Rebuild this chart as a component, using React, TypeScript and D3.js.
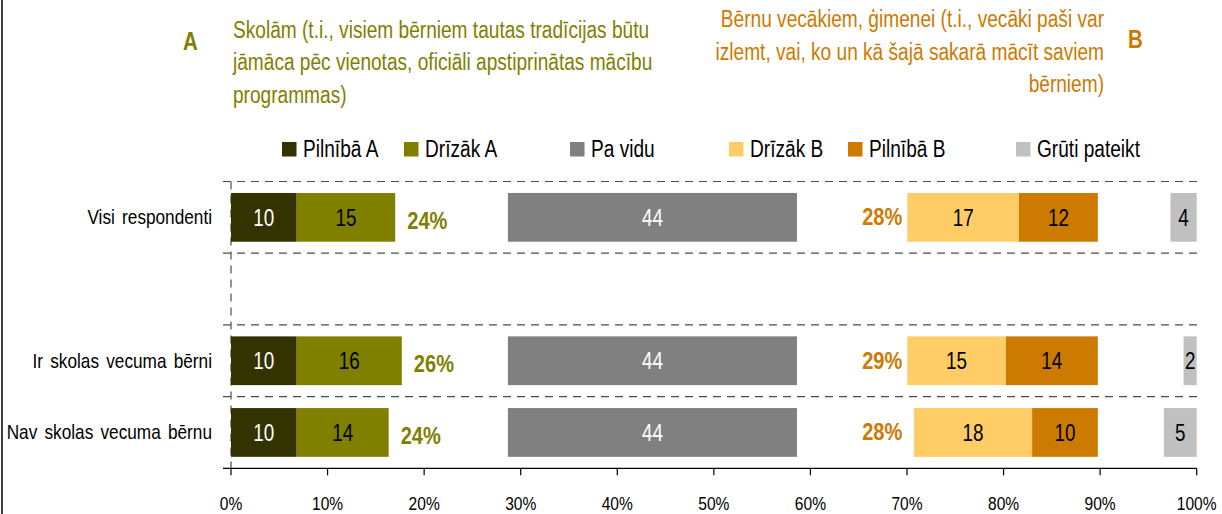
import React from "react";
import * as d3 from "d3";

// ---- data ----
const categories = ["Visi respondenti", "", "Ir skolas vecuma bērni", "Nav skolas vecuma bērnu"];
const pilnibaA = [10, null, 10, 10];
const drizakA = [15, null, 16, 14];
const paVidu = [44, null, 44, 44];
const drizakB = [17, null, 15, 18];
const pilnibaB = [12, null, 14, 10];
const grutiPateikt = [4, null, 2, 5];
const totalA = [24, null, 26, 24];
const totalB = [28, null, 29, 28];
const axisTicks = [0, 10, 20, 30, 40, 50, 60, 70, 80, 90, 100];
const legendNames = ["Pilnībā A", "Drīzāk A", "Pa vidu", "Drīzāk B", "Pilnībā B", "Grūti pateikt"];
const titleA = ["Skolām (t.i., visiem bērniem tautas tradīcijas būtu", "jāmāca pēc vienotas, oficiāli apstiprinātas mācību", "programmas)"];
const titleB = ["Bērnu vecākiem, ģimenei (t.i., vecāki paši var", "izlemt, vai, ko un kā šajā sakarā mācīt saviem", "bērniem)"];

// ---- styles / layout ----
const colors = ["#333300", "#808000", "#808080", "#FFCC66", "#CC7A00", "#C0C0C0"];
const labelColors = ["#ffffff", "#000000", "#ffffff", "#000000", "#000000", "#000000"];
const olive = "#808000";
const orange = "#CC7A00";
const FONT = "'Liberation Sans', Arial, sans-serif";
const SX = 0.82; // condensed look
const UNIT_MAX = 147;
const PA_VIDU_END = 86.15;
const B_END = 131.95;
const B_LABEL_RIGHT = 102.2;

const W = 1222;
const H = 514;
const X0 = 231;
const X1 = 1196.7;
const Y0 = 181.5;
const Y1 = 468.3;

function T({ x, y, children, ...rest }: any) {
  return (
    <text transform={`translate(${x},${y}) scale(${SX},1)`} {...rest}>
      {children}
    </text>
  );
}

export default function App() {
  const xu = d3.scaleLinear().domain([0, UNIT_MAX]).range([X0, X1]);
  const xp = d3.scaleLinear().domain([0, 100]).range([X0, X1]);
  const y = d3.scaleBand<string>().domain(categories.map((c, i) => String(i))).range([Y0, Y1]).padding(0);
  const bw = y.bandwidth();
  const barH = bw * 0.68;

  const rows: any[] = [];
  categories.forEach((cat, i) => {
    if (pilnibaA[i] == null) return;
    const a1 = pilnibaA[i] as number;
    const a2 = drizakA[i] as number;
    const pv = paVidu[i] as number;
    const b1 = drizakB[i] as number;
    const b2 = pilnibaB[i] as number;
    const g = grutiPateikt[i] as number;
    const segs = [
      { s: 0, v: a1, k: 0 },
      { s: a1, v: a2, k: 1 },
      { s: PA_VIDU_END - pv, v: pv, k: 2 },
      { s: B_END - b1 - b2, v: b1, k: 3 },
      { s: B_END - b2, v: b2, k: 4 },
      { s: UNIT_MAX - g, v: g, k: 5 },
    ];
    rows.push({ i, segs, aEnd: a1 + a2, ta: totalA[i], tb: totalB[i] });
  });

  const gridYs = categories.map((_, i) => y(String(i)) as number);
  const legendX = [282, 404, 570, 729, 848, 1016];

  return (
    <div style={{ position: "absolute", left: 0, top: 0 }}>
      <svg width={W} height={H} style={{ display: "block", background: "#fff" }} fontFamily={FONT}>
        <line x1={2} x2={2} y1={0} y2={H} stroke="#404040" strokeWidth={2} />

        {/* titles */}
        <T x={183} y={50} fill={olive} fontWeight="bold" fontSize={25}>A</T>
        {titleA.map((t, i) => (
          <T key={i} x={233} y={37.5 + i * 32.5} fill={olive} fontSize={23.3}>{t}</T>
        ))}
        {titleB.map((t, i) => (
          <T key={i} x={1104} y={27 + i * 32.5} fill={orange} fontSize={23.3} textAnchor="end">{t}</T>
        ))}
        <T x={1128} y={48} fill={orange} fontWeight="bold" fontSize={25}>B</T>

        {/* legend */}
        {legendNames.map((n, i) => (
          <g key={n}>
            <rect x={legendX[i]} y={142} width={14.5} height={14.5} fill={colors[i]} />
            <T x={legendX[i] + 21} y={157} fontSize={23.3} fill="#000">{n}</T>
          </g>
        ))}

        {/* grid */}
        {gridYs.map((gy, i) => (
          <line key={i} x1={223} x2={1197} y1={gy} y2={gy} stroke="#4d4d4d" strokeWidth={1.2} strokeDasharray="8,6" />
        ))}
        <line x1={X0} x2={X0} y1={Y0} y2={Y1} stroke="#4d4d4d" strokeWidth={1.2} strokeDasharray="8,6" />

        {/* bars */}
        {rows.map((r) => {
          const yc = (y(String(r.i)) as number) + bw / 2;
          return (
            <g key={r.i}>
              {r.segs.map((s: any) => (
                <g key={s.k}>
                  <rect x={xu(s.s)} y={yc - barH / 2} width={xu(s.s + s.v) - xu(s.s)} height={barH} fill={colors[s.k]} />
                  <T x={(xu(s.s) + xu(s.s + s.v)) / 2} y={yc + 8.5} textAnchor="middle" fontSize={23} fill={labelColors[s.k]}>{s.v}</T>
                </g>
              ))}
              <T x={xu(r.aEnd) + 12} y={yc + 11.5} fontSize={24.5} fontWeight="bold" fill={olive}>{r.ta}%</T>
              <T x={xu(B_LABEL_RIGHT)} y={yc + 8} fontSize={24.5} fontWeight="bold" fill={orange} textAnchor="end">{r.tb}%</T>
            </g>
          );
        })}

        {/* category labels */}
        {categories.map((c, i) => (
          <T key={i} x={212} y={(y(String(i)) as number) + bw / 2 + 7} textAnchor="end" fontSize={21} wordSpacing={3} fill="#000">{c}</T>
        ))}

        {/* x axis */}
        <line x1={223} x2={X1} y1={Y1} y2={Y1} stroke="#000" strokeWidth={1.2} />
        {axisTicks.map((t) => (
          <g key={t}>
            <line x1={xp(t)} x2={xp(t)} y1={Y1} y2={Y1 + 7} stroke="#000" strokeWidth={1.2} />
            <T x={xp(t)} y={510} textAnchor="middle" fontSize={19} fill="#000">{t}%</T>
          </g>
        ))}
      </svg>
    </div>
  );
}
